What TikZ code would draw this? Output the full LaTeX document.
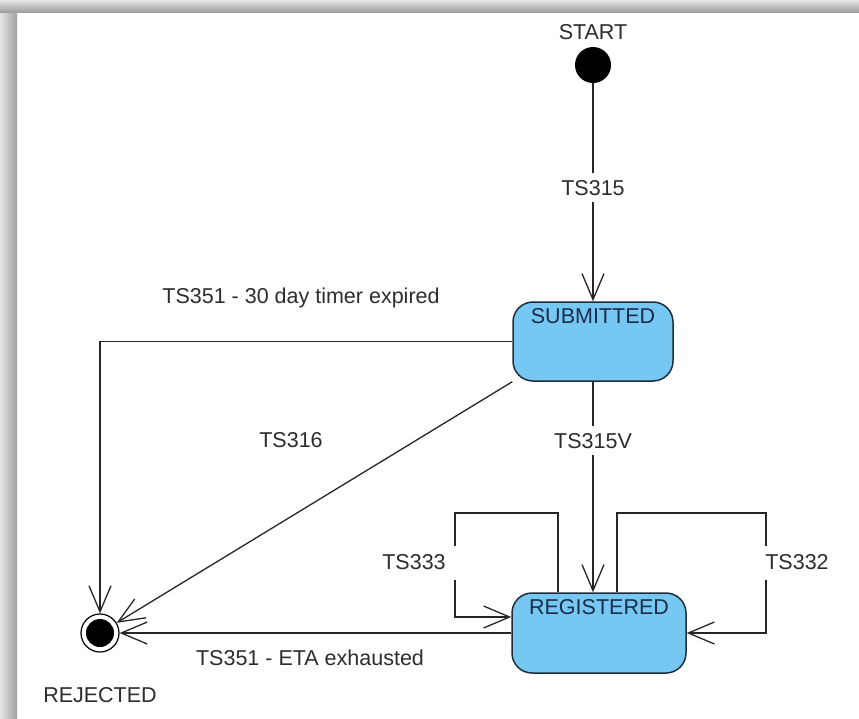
\documentclass[tikz,border=0pt]{standalone}
\usepackage{fontspec}
\setmainfont{Liberation Sans}
\usetikzlibrary{arrows.meta,calc}
\definecolor{stfill}{RGB}{118,200,242}
\definecolor{stborder}{RGB}{30,45,60}
\definecolor{sttext}{RGB}{25,45,75}
\definecolor{labtext}{RGB}{45,45,45}
\pgfdeclarelayer{back}
\pgfdeclarelayer{bg}
\pgfsetlayers{back,bg,main}
\begin{document}
\begin{tikzpicture}[x=1pt,y=-1pt,
  every node/.style={font=\fontsize{21.5}{24}\selectfont},
  state/.style={draw=stborder, line width=1.5pt, fill=stfill, rounded corners=20pt, inner sep=0pt},
  stname/.style={text=sttext, anchor=north, inner sep=0pt, yshift=-7pt},
  lab/.style={text=labtext, inner sep=2pt},
  onlab/.style={lab, fill=white, inner ysep=7pt},
  conn/.style={draw=black!85, line width=1.3pt, -{Straight Barb[length=26pt,width=22pt]}},
  gapbox/.style={fill=white, minimum width=10pt, minimum height=34pt, inner sep=0pt},
]
\useasboundingbox (0,0) rectangle (859,718);
\begin{pgfonlayer}{back}
\fill[white] (0,0) rectangle (859,718);
% frame shadow
\shade[left color=gray!20, right color=gray!75] (0,0) rectangle (17,718);
\shade[top color=gray!20, bottom color=gray!75] (0,0) rectangle (859,12);
\end{pgfonlayer}

% nodes
\node[circle, fill=black, minimum size=36pt, inner sep=0pt] (start) at (593,65) {};
\node[lab] (startlab) at (593,32) {START};
\node[state, minimum width=160pt, minimum height=79pt,
      label={[stname]north:SUBMITTED}] (sub) at (593,341.5) {};
\node[state, minimum width=174pt, minimum height=80pt,
      label={[stname]north:REGISTERED}] (reg) at (599,633) {};
\node[circle, draw=black, line width=1.2pt, minimum size=38pt, inner sep=0pt] (rej) at (100,633) {};
\fill[black] (rej) circle (14pt);
\node[lab] (rejlab) at (100,695) {REJECTED};

% labels not on lines
\node[lab] (l30) at (301,298) {TS351 - 30 day timer expired};
\node[lab] (l316) at (291,440) {TS316};
\node[lab] (leta) at (310,658) {TS351 - ETA exhausted};
\node[lab] (l333) at (414,562) {TS333};
\node[lab] (l332) at (797,562) {TS332};

% connectors
\begin{pgfonlayer}{bg}
\draw[conn] (start) -- node[onlab, pos=0.48] {TS315} (sub.north);
\draw[conn] (sub.south) -- node[onlab, pos=0.28] {TS315V} ([xshift=-6pt]reg.north);
\draw[conn] (sub.west) -| (rej);
\draw[conn] (sub.south west) -- (rej);
\draw[conn] (reg.west) -- (rej);
\coordinate (c333) at (455,513);
\coordinate (c332) at (766,513);
\draw[conn] ([xshift=-41pt]reg.north) |- (c333) |- node[gapbox, pos=0.24] {} ([yshift=16pt]reg.west);
\draw[conn] ([xshift=18pt]reg.north) |- (c332) |- node[gapbox, pos=0.21] {} (reg.east);
\end{pgfonlayer}
\end{tikzpicture}
\end{document}
